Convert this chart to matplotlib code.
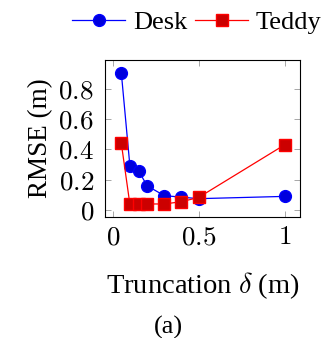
import matplotlib
matplotlib.use('Agg')
from matplotlib import pyplot as plt

# truncation values and RMSE
trunc = [0.05, 0.1, 0.15, 0.2, 0.3, 0.4, 0.5, 1.0]
desk = [0.905, 0.29, 0.26, 0.16, 0.095, 0.085, 0.075, 0.09]
teddy = [0.44, 0.037, 0.04, 0.04, 0.04, 0.055, 0.083, 0.43]

plt.rcParams['font.family'] = ['Liberation Serif', 'DejaVu Serif']
plt.rcParams['mathtext.fontset'] = 'cm'

fig = plt.figure(figsize=(3.23, 3.38), dpi=100)
ax = fig.add_axes([105 / 323, 1 - 217 / 338, 195 / 323, 157 / 338])

ax.plot(trunc, desk, color='blue', lw=0.9, marker='o', ms=8.5,
        mfc='#0000dd', mec='blue', label='Desk')
ax.plot(trunc, teddy, color='red', lw=0.9, marker='s', ms=8.5,
        mfc='#cc0000', mec='red', label='Teddy')

ax.set_xlim(-0.045, 1.09)
ax.set_ylim(-0.046, 0.99)
ax.set_xticks([0, 0.5, 1])
ax.set_xticklabels(['$0$', '$0.5$', '$1$'])
ax.set_yticks([0, 0.2, 0.4, 0.6, 0.8])
ax.set_yticklabels(['$0$', '$0.2$', '$0.4$', '$0.6$', '$0.8$'])
ax.tick_params(direction='in', top=True, right=True, length=4, width=0.6,
               color='#999999', labelsize=19.5)
ax.tick_params(axis='y', pad=8)
ax.tick_params(axis='x', pad=6)
for s in ax.spines.values():
    s.set_linewidth(0.8)

ax.set_ylabel('RMSE (m)', fontsize=19.5, labelpad=4)
ax.set_xlabel(r'Truncation $\delta$ (m)', fontsize=20.5, labelpad=14)
fig.text(168 / 323, 1 - 327 / 338, '(a)', fontsize=19, ha='center', va='center')

fig.legend(loc='center', bbox_to_anchor=(197 / 323, 1 - 22 / 338), ncol=2,
           frameon=False, fontsize=19, handlelength=2.0, handletextpad=0.3,
           columnspacing=0.3, borderaxespad=0)

fig.savefig('out.png', dpi=100)
